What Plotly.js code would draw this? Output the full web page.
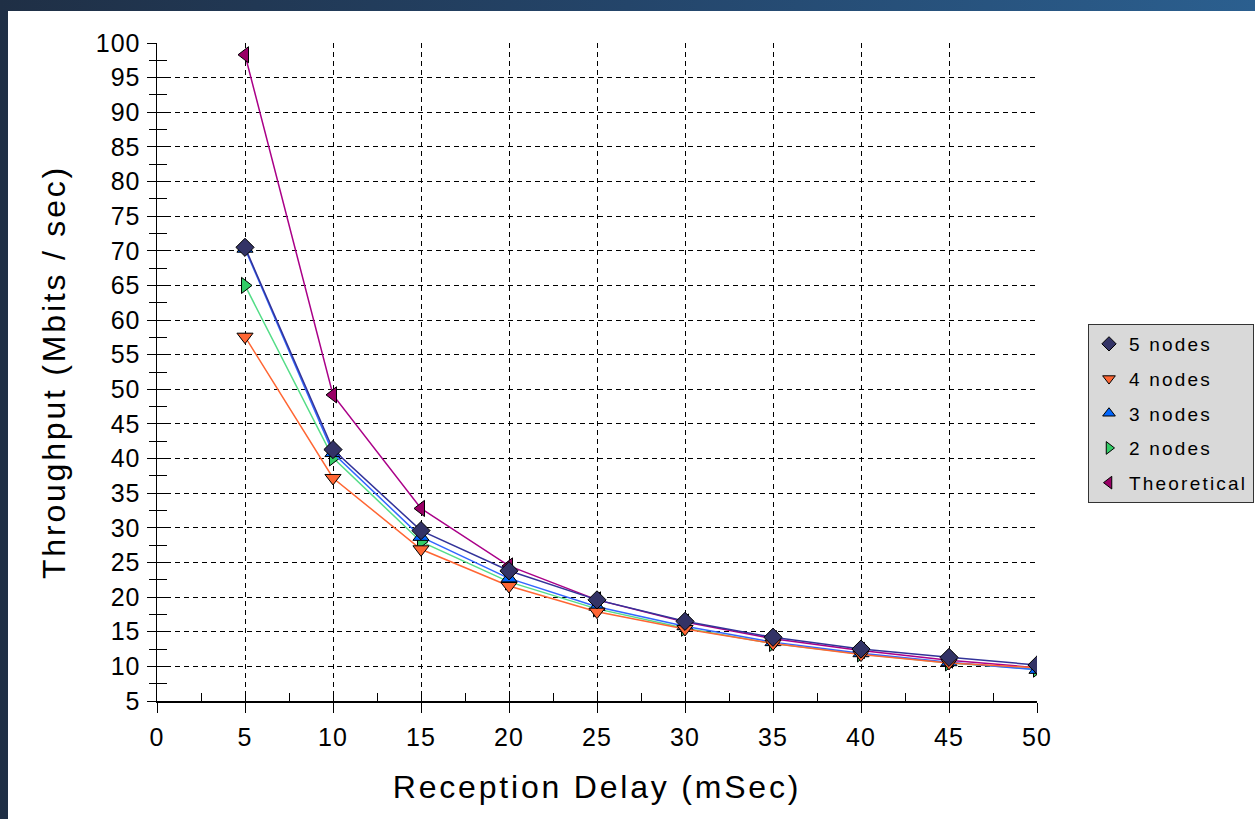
<!DOCTYPE html>
<html>
<head>
<meta charset="utf-8">
<script src="https://cdn.plot.ly/plotly-3.0.1.min.js"></script>
<style>
  html, body { margin: 0; padding: 0; width: 1255px; height: 819px; overflow: hidden; }
  body { background: linear-gradient(to right, #1f2f45 0%, #24456a 50%, #2b5f8f 100%); position: relative; }
  #paper { position: absolute; left: 8px; top: 11px; right: 0; bottom: 0; background: #ffffff; }
  #chart { position: absolute; left: 0; top: 0; width: 1255px; height: 819px; }
  .legendtext { letter-spacing: 2.2px; }
  .xtitle, .ytitle { letter-spacing: 2.8px; }
  .xtick text, .ytick text { letter-spacing: 1px; }
</style>
</head>
<body>
<div id="paper"></div>
<div id="chart"></div>
<script>
const delays = [5, 10, 15, 20, 25, 30, 35, 40, 45, 50];
const nodes5 = [70.5, 41.3, 29.6, 23.8, 19.6, 16.5, 14.2, 12.5, 11.3, 10.2];
const nodes4 = [57.6, 37.2, 26.9, 21.6, 17.9, 15.4, 13.3, 11.7, 10.5, 9.8];
const nodes3 = [70.3, 40.8, 28.7, 22.7, 18.6, 15.8, 13.5, 11.9, 10.6, 9.5];
const nodes2 = [65.0, 40.1, 28.0, 22.2, 18.3, 15.5, 13.3, 11.8, 10.5, 9.6];
const theoretical = [98.3, 49.2, 32.8, 24.5, 19.6, 16.4, 14.0, 12.3, 10.9, 9.8];
const seriesNames = ['5 nodes', '4 nodes', '3 nodes', '2 nodes', 'Theoretical'];
const yTicks = [5,10,15,20,25,30,35,40,45,50,55,60,65,70,75,80,85,90,95,100];
const xTicks = [0,5,10,15,20,25,30,35,40,45,50];

const styles = [
  { ys: nodes5, symbol: 'diamond', mc: '#333366', lc: '#333399' },
  { ys: nodes4, symbol: 'triangle-down', mc: '#FF6633', lc: '#FF6633' },
  { ys: nodes3, symbol: 'triangle-up', mc: '#0066FF', lc: '#3366FF' },
  { ys: nodes2, symbol: 'triangle-right', mc: '#33CC66', lc: '#55DD88' },
  { ys: theoretical, symbol: 'triangle-left', mc: '#990066', lc: '#AA0088' }
];

const traces = [];
// legend entries (marker only, drawn underneath the main marks)
styles.forEach((s, i) => {
  traces.push({
    x: delays, y: s.ys, name: seriesNames[i], type: 'scatter', mode: 'markers',
    legendgroup: 'g' + i, showlegend: true, hoverinfo: 'skip',
    marker: { symbol: s.symbol, size: 11, color: s.mc, line: { color: '#000000', width: 1 } }
  });
});
// main lines + markers (drawn in reverse so "5 nodes" ends on top)
styles.map((s, i) => ({ s, i })).reverse().forEach(({ s, i }) => {
  traces.push({
    x: delays, y: s.ys, name: seriesNames[i], type: 'scatter', mode: 'lines+markers',
    legendgroup: 'g' + i, showlegend: false,
    line: { color: s.lc, width: 1.5 },
    marker: { symbol: s.symbol, size: 14, color: s.mc, line: { color: '#000000', width: 1 } }
  });
});
traces.push({ x: [], y: [], xaxis: 'x2', yaxis: 'y2', type: 'scatter', mode: 'markers', showlegend: false, hoverinfo: 'skip' });

const font = 'Liberation Sans, Arial, sans-serif';
const layout = {
  width: 1255, height: 819,
  paper_bgcolor: 'rgba(0,0,0,0)', plot_bgcolor: 'rgba(0,0,0,0)',
  margin: { l: 157, r: 218, t: 43, b: 118, autoexpand: false },
  font: { family: font, color: '#000000' },
  showlegend: true,
  legend: {
    xref: 'container', yref: 'container',
    x: 1088 / 1255, y: 1 - 324 / 819, xanchor: 'left', yanchor: 'top',
    bgcolor: '#D9D9D9', bordercolor: '#333333', borderwidth: 1,
    font: { family: font, size: 19, color: '#000000' },
    tracegroupgap: 7, traceorder: 'grouped', itemwidth: 30
  },
  xaxis: {
    range: [0, 50], tickvals: xTicks, ticktext: xTicks.map(String),
    showline: true, linecolor: '#000000', linewidth: 1.5,
    ticks: 'outside', ticklen: 10, tickcolor: '#000000', tickwidth: 1,
    ticklabelstandoff: 3,
    tickfont: { family: font, size: 25 },
    showgrid: true, gridcolor: '#000000', gridwidth: 1, griddash: '5px,4px',
    zeroline: false,
    title: { text: 'Reception Delay (mSec)', font: { family: font, size: 32 }, standoff: 26 }
  },
  yaxis: {
    range: [5, 100], tickvals: yTicks, ticktext: yTicks.map(String),
    showline: true, linecolor: '#000000', linewidth: 1.5,
    ticks: 'outside', ticklen: 9, tickcolor: '#000000', tickwidth: 1,
    minor: { dtick: 2.5, ticks: 'outside', ticklen: 7, tickcolor: '#000000', showgrid: false },
    ticklabelstandoff: 1,
    tickfont: { family: font, size: 25 },
    showgrid: true, gridcolor: '#000000', gridwidth: 1, griddash: '5px,4px',
    zeroline: false,
    title: { text: 'Throughput (Mbits / sec)', font: { family: font, size: 32 }, standoff: 20 }
  },
  xaxis2: {
    overlaying: 'x', range: [0, 50], dtick: 2.5, tick0: 0, anchor: 'y2', side: 'bottom',
    ticks: 'inside', ticklen: 8, tickcolor: '#000000', showticklabels: false,
    showgrid: false, zeroline: false, showline: false
  },
  yaxis2: {
    overlaying: 'y', range: [5, 100], dtick: 2.5, tick0: 5, anchor: 'x2', side: 'left',
    ticks: 'inside', ticklen: 10, tickcolor: '#000000', showticklabels: false,
    showgrid: false, zeroline: false, showline: false
  }
};

Plotly.newPlot('chart', traces, layout, { displayModeBar: false, staticPlot: true });
</script>
</body>
</html>
